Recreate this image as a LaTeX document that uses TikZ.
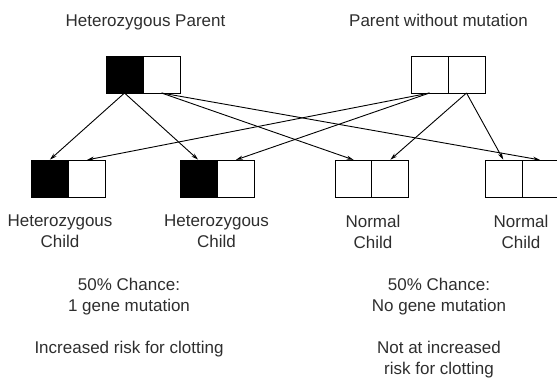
\documentclass[tikz,border=0pt]{standalone}
\usepackage{fontspec}
\setmainfont{Liberation Sans}
\usetikzlibrary{arrows.meta}
\definecolor{txt}{HTML}{2E2E2E}
\begin{document}
\begin{tikzpicture}[x=1pt,y=-1pt,
  cell/.style={draw=black,line width=0.9pt,minimum width=37pt,minimum height=37pt,inner sep=0pt,outer sep=0pt},
  mut/.style={cell,fill=black},
  norm/.style={cell,fill=white},
  link/.style={line width=0.9pt,-{Stealth[length=7pt,width=4pt]},shorten >=0.5pt},
  lbl/.style={font=\fontsize{17}{21}\selectfont,text=txt,align=center,inner sep=0pt,anchor=north}]
\useasboundingbox (0,0) rectangle (557,378);
% parents
\node[mut]  (hp1) at (124.5,74.5) {};
\node[norm] (hp2) at (161.5,74.5) {};
\node[norm] (np1) at (429.5,74.5) {};
\node[norm] (np2) at (466.5,74.5) {};
% children
\node[mut]  (c1a) at (49.5,178.5) {};
\node[norm] (c1b) at (86.5,178.5) {};
\node[mut]  (c2a) at (198.5,178.5) {};
\node[norm] (c2b) at (235.5,178.5) {};
\node[norm] (c3a) at (354,178.5) {};
\node[norm] (c3b) at (390,178.5) {};
\node[norm] (c4a) at (503.5,178.5) {};
\node[norm] (c4b) at (540.5,178.5) {};
% connectors
\draw[link] (hp1.south) -- (c1a.north);
\draw[link] (hp1.south) -- (c2a.north);
\draw[link] (hp2.south) -- (c3a.north);
\draw[link] (hp2.south) -- (c4b.north);
\draw[link] (np1.south) -- (c1b.north);
\draw[link] (np1.south) -- (c2b.north);
\draw[link] (np2.south) -- (c3b.north);
\draw[link] (np2.south) -- (c4a.north);
% titles
\node[lbl] (t1) at (145.5,14.4) {Heterozygous Parent};
\node[lbl] (t2) at (438.5,14.4) {Parent without mutation};
% child labels
\node[lbl] (l1) at (60,215) {Heterozygous\\Child};
\node[lbl] (l2) at (216.5,215) {Heterozygous\\Child};
\node[lbl] (l3) at (373,215) {Normal\\Child};
\node[lbl] (l4) at (521,215) {Normal\\Child};
% summaries
\node[lbl] (s1) at (129,278) {50\% Chance:\\1 gene mutation};
\node[lbl] (s2) at (439,278) {50\% Chance:\\No gene mutation};
\node[lbl] (r1) at (129,340.5) {Increased risk for clotting};
\node[lbl] (r2) at (439,340.5) {Not at increased\\risk for clotting};
\end{tikzpicture}
\end{document}
